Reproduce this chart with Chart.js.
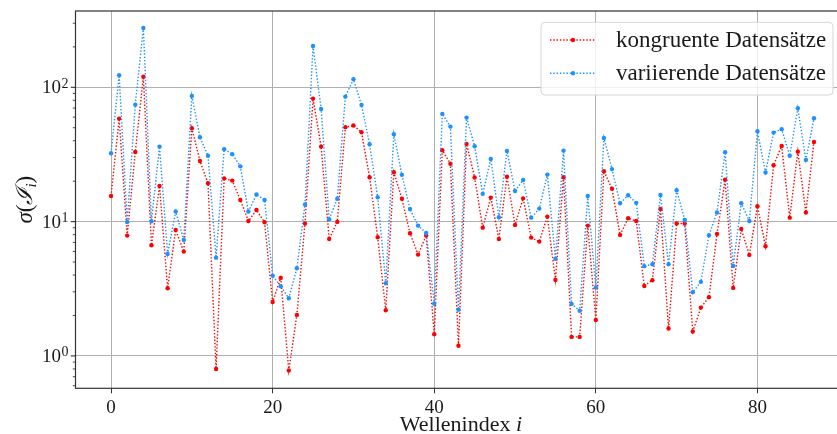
<!DOCTYPE html>
<html>
<head>
<meta charset="utf-8">
<script src="https://cdn.jsdelivr.net/npm/chart.js@4/dist/chart.umd.min.js"></script>
<style>
  html, body { margin: 0; padding: 0; background: #fff; overflow: hidden; }
  #wrap { width: 860px; height: 434px; }
</style>
</head>
<body>
<div id="wrap"><canvas id="c" width="860" height="434"></canvas></div>
<script>
// σ(I_i) per wave index for the two data-set groups
const kongruent = [
  15.5, 58.5, 7.87, 33.0, 120, 6.67, 18.4, 3.19, 8.67, 5.98,
  49.6, 28.3, 19.3, 0.80, 21.0, 20.2, 14.5, 10.1, 12.2, 9.9,
  2.52, 3.81, 0.78, 2.02, 9.67, 82.4, 36.2, 7.43, 9.95, 50.5,
  51.9, 46.3, 21.4, 7.65, 2.19, 23.3, 14.8, 8.2, 5.68, 7.87,
  1.45, 34.0, 27.0, 1.19, 37.9, 21.3, 9.02, 15.1, 7.43, 21.6,
  9.45, 14.9, 7.6, 7.1, 10.9, 3.68, 21.4, 1.385, 1.385, 9.34,
  1.85, 23.7, 17.6, 7.96, 10.6, 10.1, 3.32, 3.66, 12.4, 1.60,
  9.67, 9.67, 1.52, 2.29, 2.74, 8.1, 20.5, 3.21, 8.82, 5.65,
  13.0, 6.56, 26.3, 36.6, 10.7, 33.2, 11.7, 39.2
];
const variierend = [
  32.3, 123, 9.95, 74.3, 277, 10.07, 36.2, 5.75, 11.9, 7.31,
  86.3, 42.5, 30.9, 5.39, 34.6, 31.8, 25.8, 11.9, 15.9, 14.5,
  3.96, 3.30, 2.69, 4.50, 13.4, 203, 69.0, 10.4, 14.8, 85.3,
  115, 73.9, 37.7, 15.2, 3.48, 44.8, 22.3, 12.4, 9.34, 8.24,
  2.45, 63.4, 51.0, 2.21, 59.5, 36.4, 16.1, 29.3, 10.8, 33.6,
  16.9, 20.4, 10.7, 12.5, 22.4, 5.28, 33.8, 2.44, 2.17, 15.5,
  3.23, 42.0, 24.6, 13.7, 15.7, 13.8, 4.66, 4.82, 15.8, 4.82,
  17.1, 10.3, 2.98, 3.56, 7.92, 11.7, 32.9, 4.68, 13.7, 10.1,
  47.1, 23.2, 46.0, 48.8, 30.9, 69.9, 28.8, 58.9
];
const seriesLabels = ['kongruente Datensätze', 'variierende Datensätze'];
const xTicks = [0, 20, 40, 60, 80];
const yMajorTicks = [1, 10, 100];
const yMajorLabels = [['10', '0'], ['10', '1'], ['10', '2']];

const SERIF = "'Liberation Serif', 'DejaVu Serif', serif";
const INK = '#1a1a1a';

// minor log ticks 2..9 in each decade
const yMinorTicks = [];
[0.1, 1, 10, 100].forEach(d => { for (let k = 2; k <= 9; k++) yMinorTicks.push(k * d); });

const toPoints = arr => arr.map((v, i) => ({ x: i, y: v }));

const decorations = {
  id: 'decorations',
  afterDraw(chart) {
    const ctx = chart.ctx, a = chart.chartArea, ys = chart.scales.y;
    ctx.save();

    // frame
    ctx.strokeStyle = '#333';
    ctx.lineWidth = 1.2;
    ctx.strokeRect(a.left, a.top, a.right - a.left, a.bottom - a.top);

    // y tick marks
    ctx.strokeStyle = '#333';
    ctx.lineWidth = 0.9;
    yMinorTicks.forEach(v => {
      const p = ys.getPixelForValue(v);
      if (p < a.top || p > a.bottom) return;
      ctx.beginPath(); ctx.moveTo(a.left - 2.7, p); ctx.lineTo(a.left, p); ctx.stroke();
    });
    ctx.lineWidth = 1.1;
    yMajorTicks.forEach(v => {
      const p = ys.getPixelForValue(v);
      ctx.beginPath(); ctx.moveTo(a.left - 4.8, p); ctx.lineTo(a.left, p); ctx.stroke();
    });

    // y tick labels 10^n
    ctx.fillStyle = INK;
    yMajorTicks.forEach((v, k) => {
      const p = ys.getPixelForValue(v);
      const [base, exp] = yMajorLabels[k];
      const right = a.left - 7;
      ctx.font = '14px ' + SERIF;
      const we = ctx.measureText(exp).width;
      ctx.textAlign = 'left';
      ctx.textBaseline = 'alphabetic';
      ctx.fillText(exp, right - we, p + 0.5);
      ctx.font = '19px ' + SERIF;
      ctx.textAlign = 'right';
      ctx.textBaseline = 'middle';
      ctx.fillText(base, right - we - 0.5, p + 1);
    });

    // x axis title
    ctx.textBaseline = 'alphabetic';
    ctx.font = '22px ' + SERIF;
    const t1 = 'Wellenindex ';
    const w1 = ctx.measureText(t1).width;
    ctx.font = 'italic 22px ' + SERIF;
    const w2 = ctx.measureText('i').width;
    const cx = (a.left + a.right) / 2;
    let x0 = cx - (w1 + w2) / 2;
    ctx.textAlign = 'left';
    ctx.font = '22px ' + SERIF;
    ctx.fillText(t1, x0, 431);
    ctx.font = 'italic 22px ' + SERIF;
    ctx.fillText('i', x0 + w1, 431);

    // y axis title σ(ℐ_i), rotated
    const parts = [
      { t: 'σ', f: 'italic 23px ' + SERIF, dy: 0 },
      { t: '(', f: '23px ' + SERIF, dy: 0 },
      { t: 'ℐ', f: 'italic 23px ' + SERIF, dy: 0 },
      { t: 'i', f: 'italic 15px ' + SERIF, dy: 4 },
      { t: ')', f: '23px ' + SERIF, dy: 0 }
    ];
    let total = 0;
    parts.forEach(p => { ctx.font = p.f; p.w = ctx.measureText(p.t).width; total += p.w; });
    ctx.save();
    ctx.translate(32, (a.top + a.bottom) / 2);
    ctx.rotate(-Math.PI / 2);
    let px = -total / 2;
    parts.forEach(p => { ctx.font = p.f; ctx.fillText(p.t, px, p.dy); px += p.w; });
    ctx.restore();

    // legend
    const L = { x: 541, y: 22.3, w: 292, h: 72.7, r: 4 };
    ctx.beginPath();
    ctx.roundRect(L.x, L.y, L.w, L.h, L.r);
    ctx.fillStyle = 'rgba(255,255,255,0.8)';
    ctx.fill();
    ctx.strokeStyle = '#d6d6d6';
    ctx.lineWidth = 1;
    ctx.stroke();
    const rows = [40, 73.3];
    chart.data.datasets.forEach((ds, k) => {
      const y = rows[k];
      ctx.strokeStyle = ds.borderColor;
      ctx.lineWidth = ds.borderWidth;
      ctx.setLineDash(ds.borderDash);
      ctx.beginPath(); ctx.moveTo(550, y); ctx.lineTo(596, y); ctx.stroke();
      ctx.setLineDash([]);
      ctx.fillStyle = ds.pointBackgroundColor;
      ctx.beginPath(); ctx.arc(573, y, ds.pointRadius, 0, Math.PI * 2); ctx.fill();
      ctx.fillStyle = INK;
      ctx.font = '23px ' + SERIF;
      ctx.textAlign = 'left';
      ctx.textBaseline = 'middle';
      ctx.fillText(ds.label, 616, y + 1);
    });
    ctx.restore();
  }
};

const lineStyle = color => ({
  borderColor: color,
  backgroundColor: color,
  pointBackgroundColor: color,
  borderWidth: 1.4,
  borderDash: [1.4, 1.9],
  borderCapStyle: 'butt',
  pointRadius: 2.2,
  pointBorderWidth: 0,
  pointHoverRadius: 2.2,
  fill: false,
  tension: 0
});

new Chart(document.getElementById('c'), {
  type: 'line',
  data: {
    datasets: [
      { label: seriesLabels[0], data: toPoints(kongruent), order: 1, ...lineStyle('#ff0000') },
      { label: seriesLabels[1], data: toPoints(variierend), order: 0, ...lineStyle('#1e90ff') }
    ]
  },
  options: {
    responsive: false,
    devicePixelRatio: 1,
    animation: false,
    layout: { padding: { top: 11, right: 13.7, left: 0, bottom: 0 } },
    plugins: { legend: { display: false }, tooltip: { enabled: false } },
    scales: {
      x: {
        type: 'linear',
        min: -4.4,
        max: 91,
        afterBuildTicks: s => { s.ticks = xTicks.map(v => ({ value: v })); },
        afterFit: s => { s.height = 45.7; },
        border: { display: false },
        grid: { color: '#b0b0b0', lineWidth: 1, tickColor: '#333', tickLength: 5 },
        ticks: { font: { family: SERIF, size: 19 }, color: INK, padding: 3, maxRotation: 0 }
      },
      y: {
        type: 'logarithmic',
        min: 0.574,
        max: 370,
        afterBuildTicks: s => { s.ticks = yMajorTicks.map(v => ({ value: v })); },
        afterFit: s => { s.width = 75.5; },
        border: { display: false },
        grid: { color: '#b0b0b0', lineWidth: 1, drawTicks: false },
        ticks: { display: false }
      }
    }
  },
  plugins: [decorations]
});
</script>
</body>
</html>
